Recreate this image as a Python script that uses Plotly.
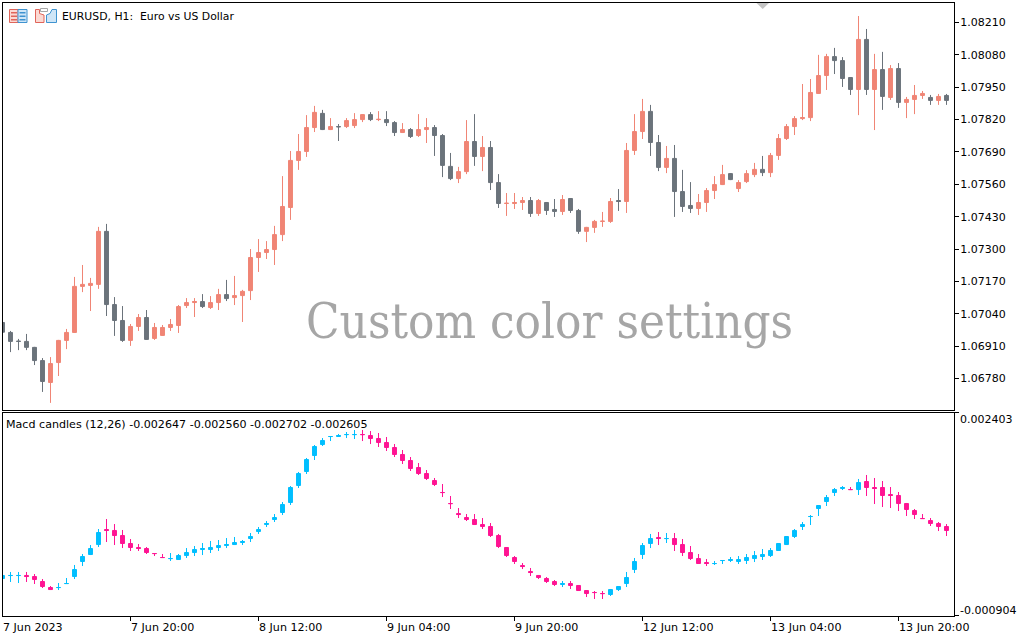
import plotly.graph_objects as go

# ---------- chart data ----------
price_open = [
107005,106965,106930,106929,106905,106852,106764,106844,106933,106965,
107150,107154,107158,107371,107077,107013,106933,106989,107025,106941,
106953,106985,106993,107073,107085,107089,107065,107085,107117,107105,
107113,107133,107266,107286,107298,107358,107467,107656,107692,107788,
107845,107780,107792,107792,107796,107820,107840,107820,107820,107808,
107768,107780,107756,107780,107788,107756,107632,107583,107611,107732,
107672,107708,107567,107483,107483,107487,107495,107443,107487,107459,
107451,107503,107455,107371,107387,107411,107411,107495,107491,107696,
107772,107853,107728,107628,107664,107531,107475,107463,107487,107535,
107559,107603,107543,107571,107599,107620,107607,107676,107744,107792,
107824,107828,107925,107997,108073,108057,107989,107941,108142,107941,
108021,107909,108025,107889,107901,107917,107909,107897,107917]
price_high = [
107007,106971,106939,106959,106907,106862,106866,106935,106979,107188,
107236,107184,107389,107401,107107,107071,106999,107039,107055,107003,
106995,107019,107075,107103,107103,107119,107111,107140,107176,107192,
107136,107300,107340,107332,107393,107593,107694,107762,107838,107875,
107859,107826,107802,107826,107846,107842,107850,107854,107854,107814,
107806,107786,107842,107826,107798,107762,107686,107630,107818,107842,
107754,107734,107601,107525,107525,107509,107509,107501,107489,107501,
107517,107505,107461,107389,107417,107449,107505,107541,107726,107842,
107903,107879,107758,107714,107718,107618,107569,107521,107545,107593,
107638,107605,107577,107617,107646,107674,107686,107762,107802,107834,
107963,107983,108080,108084,108108,108071,107991,108236,108184,108084,
108092,108039,108047,107911,107959,107935,107919,107923,107923]
price_low = [
106963,106886,106894,106894,106834,106726,106682,106790,106898,106963,
107127,107051,107140,107031,106951,106927,106911,106971,106935,106935,
106951,106971,106963,107063,107027,107063,107059,107055,107091,107075,
107007,107095,107208,107260,107236,107332,107417,107618,107670,107770,
107778,107778,107734,107786,107786,107810,107814,107814,107794,107754,
107766,107746,107750,107726,107674,107589,107577,107565,107601,107634,
107613,107537,107465,107433,107461,107457,107429,107433,107437,107429,
107437,107445,107361,107328,107365,107389,107405,107453,107445,107678,
107742,107674,107613,107605,107429,107449,107445,107437,107449,107501,
107557,107577,107529,107565,107589,107593,107589,107658,107738,107758,
107818,107814,107923,107939,108003,107951,107919,107838,107919,107778,
107859,107899,107867,107826,107842,107903,107879,107879,107879]
price_close = [
106966,106929,106929,106905,106852,106768,106840,106933,106965,107150,
107158,107162,107371,107077,107013,106933,106989,107025,106937,106985,
106985,106997,107069,107085,107089,107069,107085,107117,107101,107113,
107130,107266,107286,107298,107358,107471,107656,107692,107788,107849,
107780,107792,107791,107816,107820,107840,107820,107821,107808,107768,
107780,107752,107780,107788,107756,107636,107583,107611,107732,107672,
107708,107567,107483,107484,107487,107495,107443,107495,107455,107451,
107499,107455,107371,107387,107411,107412,107491,107491,107696,107772,
107853,107728,107628,107664,107531,107471,107463,107487,107535,107559,
107599,107579,107567,107603,107620,107607,107676,107744,107792,107824,
107828,107929,107997,108073,108057,107985,107941,108142,107941,108021,
107913,108025,107889,107901,107917,107925,107897,107913,107897]

macd_open = [
-301,-253,-253,-252,-269,-350,-448,-449,-384,-269,
-24,90,252,497,481,399,269,204,187,106,
41,23,8,73,122,171,171,204,236,252,
285,350,464,578,660,774,937,1214,1442,1702,
1881,2011,2012,2043,2043,2044,2028,1979,1914,1833,
1719,1621,1507,1409,1295,1100,920,757,692,660,
578,546,399,204,41,-90,-187,-252,-301,-350,
-399,-383,-415,-497,-529,-546,-562,-481,-383,-155,
90,269,367,349,350,252,122,24,-41,-58,
-9,-8,-24,-8,24,57,73,155,252,383,
546,708,839,953,1100,1165,1148,1148,1279,1181,
1181,1067,1051,920,806,676,643,595,546]
macd_high = [
-244,-195,-195,-195,-228,-310,-424,-375,-293,-81,
98,244,505,668,586,489,342,261,212,114,
98,114,98,195,228,277,310,326,358,375,
326,440,538,635,749,945,1205,1434,1662,1873,
1987,2020,2053,2085,2118,2118,2101,2069,2004,1890,
1792,1678,1580,1466,1336,1238,1043,847,749,749,
684,603,424,212,65,-49,-130,-244,-277,-326,
-342,-342,-407,-489,-505,-505,-472,-424,-195,33,
277,424,456,440,440,342,228,98,16,-16,
0,49,65,98,147,179,195,277,391,505,
619,733,896,1059,1173,1205,1189,1320,1385,1336,
1287,1189,1108,929,831,749,684,619,586]
macd_low = [
-309,-358,-375,-358,-391,-456,-489,-489,-391,-310,
-98,81,212,293,244,195,147,147,98,65,
33,-16,0,33,65,81,114,147,195,244,
244,293,424,538,619,733,896,1173,1401,1629,
1857,1938,2004,1987,1971,1938,1889,1841,1776,1678,
1564,1450,1385,1303,1205,1026,831,684,635,570,
505,375,195,49,-65,-147,-261,-310,-375,-424,
-440,-472,-505,-603,-635,-635,-586,-505,-440,-212,
16,195,244,277,147,65,0,-65,-98,-81,
-65,-33,-65,-65,-33,0,49,147,244,358,
489,570,717,880,1043,1140,1140,1059,1043,912,
863,847,798,717,668,668,554,472,391]
macd_close = [
-252,-252,-252,-269,-318,-432,-481,-448,-383,-155,
57,187,448,481,399,269,204,187,122,105,
40,24,73,122,171,187,204,236,252,285,
301,383,497,595,692,904,1181,1409,1637,1849,
1947,2012,2028,2044,2044,2043,1979,1914,1833,1719,
1621,1491,1409,1328,1230,1099,919,741,660,578,
546,399,220,73,-24,-106,-204,-285,-350,-399,
-383,-415,-497,-546,-530,-547,-481,-432,-285,-24,
236,350,350,350,252,122,24,-57,-57,-57,
-8,8,8,41,73,90,155,269,383,481,
578,709,888,1018,1148,1181,1147,1262,1181,1165,
1051,1051,920,823,741,675,595,546,481]

price_ticks = [1.08210,1.08080,1.07950,1.07820,1.07690,1.07560,1.07430,1.07300,1.07170,1.07040,1.06910,1.06780]
time_tick_bars = [0,16,32,48,64,80,96,112]
time_tick_labels = ["7 Jun 2023","7 Jun 20:00","8 Jun 12:00","9 Jun 04:00","9 Jun 20:00","12 Jun 12:00","13 Jun 04:00","13 Jun 20:00"]
macd_scale_labels = ["0.002403","-0.000904"]

# ---------- layout constants ----------
W, H = 1024, 640
PL, PR = 3, 954
T1, B1 = 3, 410
T2, B2 = 413, 616
SALMON, SLATE = "#F08575", "#6B737B"
BLUE, PINK = "#00BFFF", "#FF1493"
FONT = "DejaVu Sans"
ICON_RED, ICON_RED_FILL = "#E0655A", "#FBD9D3"
ICON_BLUE, ICON_BLUE_FILL = "#3E93D0", "#CFE6F7"

def fx(px): return px / W
def fy(py): return 1 - py / H

bars = list(range(len(price_open)))
xrange_ = [(PL - 2.5) / 8, (PR - 2.5) / 8]
# price and macd scales calibrated from the axis labels
p_range = [1.083004 - 4.017e-5 * B1, 1.083004 - 4.017e-5 * T1]
m_range = [(2443.7 - 16.29 * (B2 - 410)) * 1e-6, (2443.7 - 16.29 * (T2 - 410)) * 1e-6]

fig = go.Figure()
fig.add_trace(go.Candlestick(
    x=bars, open=[v / 1e5 for v in price_open], high=[v / 1e5 for v in price_high],
    low=[v / 1e5 for v in price_low], close=[v / 1e5 for v in price_close],
    increasing=dict(line=dict(color=SALMON, width=1), fillcolor=SALMON),
    decreasing=dict(line=dict(color=SLATE, width=1), fillcolor=SLATE),
    whiskerwidth=0, xaxis="x", yaxis="y", hoverinfo="skip", showlegend=False))
fig.add_trace(go.Candlestick(
    x=bars, open=[v / 1e6 for v in macd_open], high=[v / 1e6 for v in macd_high],
    low=[v / 1e6 for v in macd_low], close=[v / 1e6 for v in macd_close],
    increasing=dict(line=dict(color=BLUE, width=1), fillcolor=BLUE),
    decreasing=dict(line=dict(color=PINK, width=1), fillcolor=PINK),
    whiskerwidth=0, xaxis="x2", yaxis="y2", hoverinfo="skip", showlegend=False))

common_axis = dict(showgrid=False, zeroline=False, showline=True, linecolor="black",
                   linewidth=1, mirror=True, color="black")

annots = []
def text(s, x, y, size=11, anchor="left", color="black", family=FONT):
    annots.append(dict(text=s, xref="paper", yref="paper", x=fx(x), y=fy(y), xanchor=anchor,
                       yanchor="middle", showarrow=False, align="left",
                       font=dict(family=family, size=size, color=color),
                       borderpad=0, borderwidth=0))

text("EURUSD, H1:\u00a0\u00a0Euro vs US Dollar", 61.5, 16, size=10.85)
text("Macd candles (12,26) -0.002647 -0.002560 -0.002702 -0.002605", 5.5, 424, size=11.1)
text("Custom color settings", 549, 321, size=48.8, anchor="center", color="#A6A6A6", family="DejaVu Serif Condensed")
text(macd_scale_labels[0], 960, 419)
text(macd_scale_labels[1], 960, 610)
for b, lab in zip(time_tick_bars, time_tick_labels):
    text(lab, max(2.5 + 8 * b, 2), 627.5, size=11.1)

shapes = []
def rect(x0, y0, x1, y1, fill, line=None):
    shapes.append(dict(type="rect", xref="paper", yref="paper", x0=fx(x0), x1=fx(x1), y0=fy(y0), y1=fy(y1),
                       fillcolor=fill, line=dict(color=line or fill, width=1 if line else 0), layer="above"))
def poly(points, fill, line=None):
    path = "M " + " L ".join(f"{fx(a)} {fy(b)}" for a, b in points) + " Z"
    shapes.append(dict(type="path", xref="paper", yref="paper", path=path, fillcolor=fill,
                       line=dict(color=line or fill, width=1 if line else 0), layer="above"))

# lower pane scale ticks
rect(955, 412, 959, 413, "black")
rect(955, 615, 959, 616, "black")
# toolbar icon: table
rect(9.5, 9.5, 18, 22.5, ICON_RED_FILL, ICON_RED)
rect(18, 9.5, 27, 22.5, ICON_BLUE_FILL, ICON_BLUE)
for yy in (12, 15.5, 19):
    rect(11, yy, 17, yy + 1.5, ICON_RED)
    rect(19.5, yy, 25.5, yy + 1.5, ICON_BLUE)
# toolbar icon: folders
poly([(35.5, 9.5), (39.5, 9.5), (39.5, 13.5), (44, 15), (44, 22.5), (35.5, 22.5)], ICON_RED_FILL, ICON_RED)
poly([(46.5, 15), (50, 13.5), (52, 9.5), (56.5, 9.5), (56.5, 22.5), (46.5, 22.5)], ICON_BLUE_FILL, ICON_BLUE)
rect(40.5, 8.5, 47.5, 11.5, "white", "#A8A8A8")
# chart-shift marker
poly([(756.5, 3), (769, 3), (762.7, 9)], "#C4C4C4")

fig.update_layout(
    width=W, height=H, margin=dict(l=0, r=0, t=0, b=0, pad=0),
    paper_bgcolor="white", plot_bgcolor="white", showlegend=False,
    font=dict(family=FONT, size=11, color="black"),
    hovermode=False,
    xaxis=dict(domain=[fx(PL), fx(PR)], range=xrange_, anchor="y", rangeslider=dict(visible=False),
               showticklabels=False, ticks="", **common_axis),
    yaxis=dict(domain=[fy(B1), fy(T1)], range=p_range, anchor="x", side="right", tickmode="array",
               tickvals=price_ticks, ticktext=[f"{v:.5f}" for v in price_ticks], ticks="outside",
               ticklen=4, tickwidth=1, tickcolor="black", ticklabelstandoff=-1,
               tickfont=dict(family=FONT, size=11, color="black"), **common_axis),
    xaxis2=dict(domain=[fx(PL), fx(PR)], range=xrange_, anchor="y2", rangeslider=dict(visible=False),
                tickmode="array", tickvals=time_tick_bars, ticktext=[""] * len(time_tick_bars),
                ticks="outside", ticklen=4, tickwidth=1, tickcolor="black", **common_axis),
    yaxis2=dict(domain=[fy(B2), fy(T2)], range=m_range, anchor="x2", side="right",
                showticklabels=False, ticks="", **common_axis),
    annotations=annots, shapes=shapes,
)

fig.write_html("out.html", config=dict(displayModeBar=False, responsive=False),
               post_script="document.body.style.margin='0';document.body.style.overflow='hidden';")
